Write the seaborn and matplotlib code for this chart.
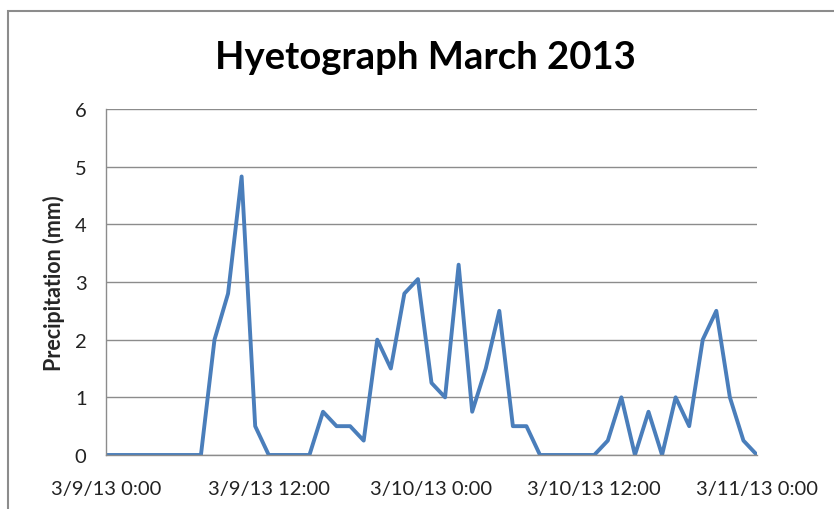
import pandas as pd
import matplotlib
matplotlib.use("Agg")
import matplotlib.pyplot as plt
import matplotlib.dates as mdates
from matplotlib.patches import Rectangle
import seaborn as sns

# hourly rainfall, 3/9/13 0:00 .. 3/11/13 0:00
start = "2013-03-09 00:00"
n_hours = 49
precip_mm = [
    0, 0, 0, 0, 0, 0, 0, 0, 2.0, 2.8, 4.83, 0.5,
    0, 0, 0, 0, 0.75, 0.5, 0.5, 0.25, 2.0, 1.5, 2.8, 3.05,
    1.25, 1.0, 3.3, 0.75, 1.5, 2.5, 0.5, 0.5, 0, 0, 0, 0,
    0, 0.25, 1.0, 0, 0.75, 0, 1.0, 0.5, 2.0, 2.5, 1.0, 0.25,
    0,
]
y_ticks = [0, 1, 2, 3, 4, 5, 6]

times = pd.date_range(start, periods=n_hours, freq="h")
df = pd.DataFrame({"time": times, "precip": precip_mm})

sns.set_theme(style="white")
plt.rcParams['font.family'] = ['Lato', 'DejaVu Sans']

fig = plt.figure(figsize=(8.34, 5.10), dpi=100)
ax = fig.add_axes([106 / 834, 1 - 456 / 510, (757 - 106) / 834, (456 - 110) / 510])

sns.lineplot(data=df, x="time", y="precip", ax=ax, color="#4A7EBB", linewidth=2.8)

ax.set_xlim(times[0], times[-1])
ax.set_ylim(0, 6)
ax.set_yticks(y_ticks)
ax.yaxis.grid(True, color="#8C8C8C", linewidth=1)
ax.set_axisbelow(True)

ax.xaxis.set_major_locator(mdates.HourLocator(byhour=[0, 12]))


def fmt(x, pos):
    d = mdates.num2date(x)
    return f"{d.month}/{d.day}/{d.strftime('%y')} {d.hour}:{d.minute:02d}"


ax.xaxis.set_major_formatter(plt.FuncFormatter(fmt))

for side in ["top", "right"]:
    ax.spines[side].set_visible(False)
for side in ["left", "bottom"]:
    ax.spines[side].set_color("#8C8C8C")
    ax.spines[side].set_linewidth(1)

ax.tick_params(axis="both", which="major", direction="out", length=7, width=1,
               color="#8C8C8C", labelsize=14.5, labelcolor="#222222")
ax.tick_params(axis="x", pad=11)
ax.tick_params(axis="y", pad=7)

ax.set_xlabel("")
ax.set_ylabel("Precipitation (mm)", fontsize=15.5, fontweight="bold", labelpad=7)

fig.text(425 / 834, 1 - 58 / 510, "Hyetograph March 2013", ha="center", va="center",
         fontsize=27.5, fontweight="bold", color="black")

# chart-area border (cropped at right/bottom)
fig.add_artist(Rectangle((8 / 834, -0.1), 1.2, 1 - 12 / 510 + 0.1, transform=fig.transFigure,
                         fill=False, edgecolor="#8C8C8C", linewidth=1.5))

fig.savefig("out.png", dpi=100)
